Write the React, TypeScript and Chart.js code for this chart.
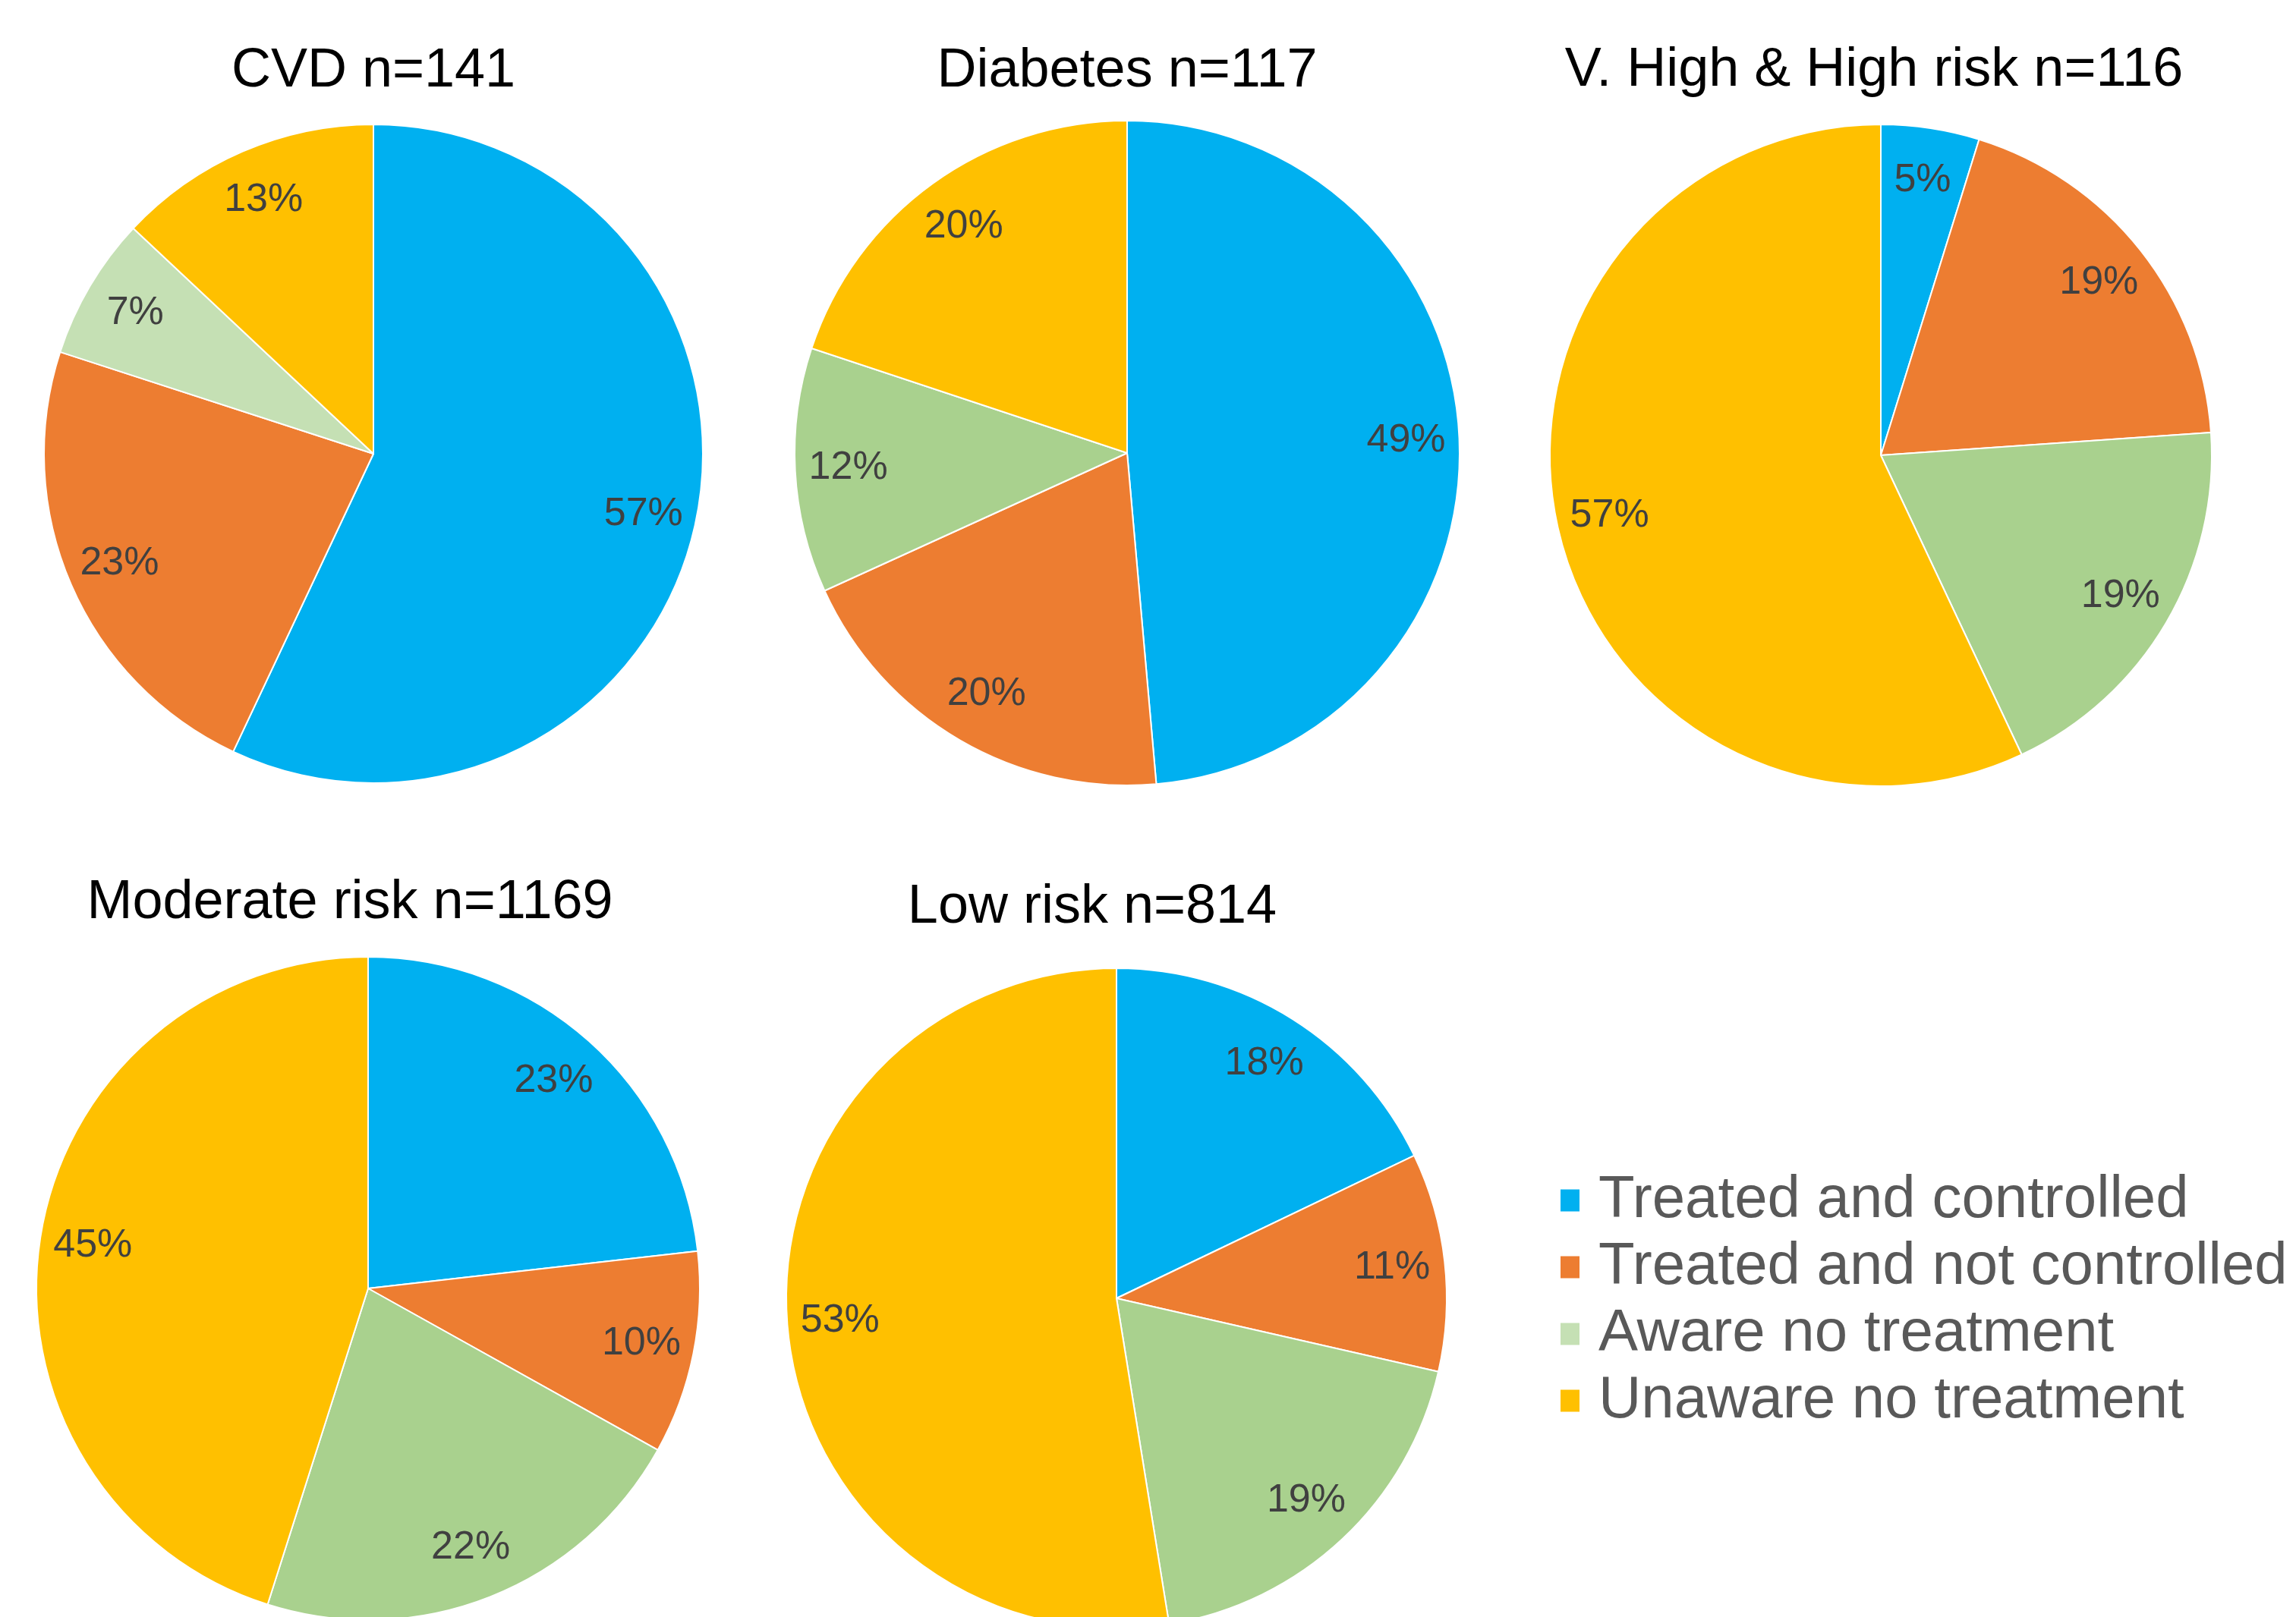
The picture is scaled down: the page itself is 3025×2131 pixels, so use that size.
import React, { useEffect, useRef } from 'react';
import { Chart, registerables } from 'chart.js';

Chart.register(...registerables);

// ---------------- data ----------------
const categories = [
  'Treated and controlled',
  'Treated and not controlled',
  'Aware no treatment',
  'Unaware no treatment',
];
const panelTitles = [
  'CVD n=141',
  'Diabetes n=117',
  'V. High & High risk n=116',
  'Moderate risk n=1169',
  'Low risk n=814',
];
const cvdValues = [57.0, 23.0, 7.0, 13.0];
const diabetesValues = [48.6, 19.6, 11.9, 19.9];
const veryHighHighValues = [4.8, 19.1, 19.1, 57.0];
const moderateValues = [23.2, 9.9, 21.8, 45.1];
const lowValues = [17.9, 10.7, 18.9, 52.6];

// ---------------- styles ----------------
const colorsMain = ['#00B0F0', '#ED7D31', '#A9D18E', '#FFC000'];
const colorsLight = ['#00B0F0', '#ED7D31', '#C5E0B4', '#FFC000'];
const FONT = '"Liberation Sans", Arial, sans-serif';

const CANVAS_W = 1000;
const CANVAS_H = 1046;
const CENTER_Y_LOCAL = 598;
const PAD_TOP = 2 * CENTER_Y_LOCAL - CANVAS_H; // chart area centred at CENTER_Y_LOCAL

const panels = [
  { title: panelTitles[0], values: cvdValues, colors: colorsLight, cx: 492, cy: 598, r: 434, tx: 492, ty: 114 },
  { title: panelTitles[1], values: diabetesValues, colors: colorsMain, cx: 1485, cy: 597, r: 438, tx: 1485, ty: 114 },
  { title: panelTitles[2], values: veryHighHighValues, colors: colorsMain, cx: 2478, cy: 600, r: 436, tx: 2469, ty: 113 },
  { title: panelTitles[3], values: moderateValues, colors: colorsMain, cx: 485, cy: 1698, r: 437, tx: 461, ty: 1210 },
  { title: panelTitles[4], values: lowValues, colors: colorsMain, cx: 1471, cy: 1711, r: 435, tx: 1439, ty: 1216 },
];

const sliceLabelPlugin = {
  id: 'sliceLabels',
  afterDatasetsDraw(chart: any) {
    const ctx = chart.ctx;
    const meta = chart.getDatasetMeta(0);
    const vals = chart.data.datasets[0].data as number[];
    const total = vals.reduce((a: number, b: number) => a + b, 0);
    ctx.save();
    ctx.font = `52px ${FONT}`;
    ctx.fillStyle = '#404040';
    ctx.textAlign = 'center';
    ctx.textBaseline = 'middle';
    meta.data.forEach((arc: any, i: number) => {
      const { x, y, startAngle, endAngle, outerRadius } = arc.getProps(
        ['x', 'y', 'startAngle', 'endAngle', 'outerRadius'],
        true
      );
      const mid = (startAngle + endAngle) / 2;
      const d = outerRadius * 0.84;
      const pct = Math.round((vals[i] / total) * 100);
      ctx.fillText(`${pct}%`, x + Math.cos(mid) * d, y + Math.sin(mid) * d);
    });
    ctx.restore();
  },
};

function PiePanel(props: any) {
  const { title, values, colors, cx, cy, r, tx, ty } = props;
  const ref = useRef<HTMLCanvasElement | null>(null);
  const left = cx - CANVAS_W / 2;
  const top = cy - CENTER_Y_LOCAL;

  useEffect(() => {
    if (!ref.current) return;
    const titlePlugin = {
      id: 'panelTitle',
      afterDraw(chart: any) {
        const ctx = chart.ctx;
        ctx.save();
        ctx.font = `72px ${FONT}`;
        ctx.fillStyle = '#000000';
        ctx.textAlign = 'center';
        ctx.textBaseline = 'alphabetic';
        ctx.fillText(title, tx - left, ty - top);
        ctx.restore();
      },
    };
    const chart = new Chart(ref.current, {
      type: 'pie',
      data: {
        labels: categories,
        datasets: [
          {
            data: values,
            backgroundColor: colors,
            borderColor: '#FFFFFF',
            borderWidth: 2,
            radius: r,
          } as any,
        ],
      },
      options: {
        responsive: false,
        animation: false,
        devicePixelRatio: 1,
        events: [],
        layout: { padding: { top: PAD_TOP, left: 0, right: 0, bottom: 0 } },
        plugins: {
          legend: { display: false },
          tooltip: { enabled: false },
          title: { display: false },
        },
      } as any,
      plugins: [sliceLabelPlugin, titlePlugin],
    });
    return () => chart.destroy();
  }, []);

  return (
    <canvas
      ref={ref}
      width={CANVAS_W}
      height={CANVAS_H}
      style={{ position: 'absolute', left, top, width: CANVAS_W, height: CANVAS_H }}
    />
  );
}

function LegendPanel() {
  const ref = useRef<HTMLCanvasElement | null>(null);
  const left = 2056;
  const top = 1533;
  const w = 969;
  const h = 800;
  useEffect(() => {
    if (!ref.current) return;
    const chart = new Chart(ref.current, {
      type: 'pie',
      data: {
        labels: categories,
        datasets: [
          {
            data: cvdValues,
            backgroundColor: colorsLight,
            borderWidth: 0,
            radius: 0,
          } as any,
        ],
      },
      options: {
        responsive: false,
        animation: false,
        devicePixelRatio: 1,
        events: [],
        plugins: {
          tooltip: { enabled: false },
          legend: {
            display: true,
            position: 'top',
            align: 'start',
            labels: {
              usePointStyle: true,
              pointStyle: 'rect',
              boxWidth: 1,
              boxHeight: 29,
              padding: 10,
              color: '#595959',
              font: { family: FONT, size: 78 },
            },
          },
        },
      } as any,
    });
    return () => chart.destroy();
  }, []);
  return (
    <canvas
      ref={ref}
      width={w}
      height={h}
      style={{ position: 'absolute', left, top, width: w, height: h }}
    />
  );
}

export default function App() {
  return (
    <div
      style={{
        position: 'absolute',
        left: 0,
        top: 0,
        width: 3025,
        height: 2131,
        overflow: 'hidden',
        background: '#FFFFFF',
      }}
    >
      {panels.map((p, i) => (
        <PiePanel key={i} {...p} />
      ))}
      <LegendPanel />
    </div>
  );
}
